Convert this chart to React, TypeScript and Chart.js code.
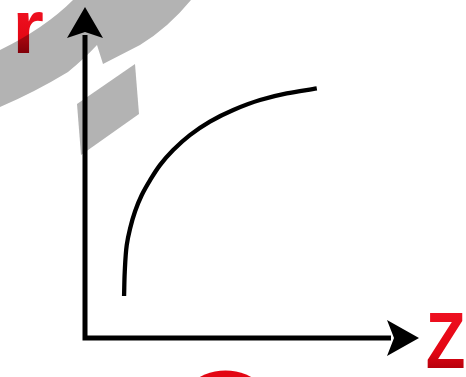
import React, { useEffect, useRef } from "react";
import { Chart, registerables } from "chart.js";

Chart.register(...registerables);

// Curve (z along the horizontal axis, r vertical), axis range 0..10
const zValues = [1.17, 1.19, 1.25, 1.35, 1.5, 1.7, 1.95, 2.25, 2.64, 3.14, 3.74, 4.44, 5.24, 6.04, 6.94];
const rValues = [1.27, 2.0, 2.81, 3.31, 3.83, 4.32, 4.77, 5.23, 5.68, 6.13, 6.54, 6.89, 7.19, 7.39, 7.54];
const axisMin = 0;
const axisMax = 10;
const xAxisLabel = "Z";
const yAxisLabel = "r";

const RED = "#e30613";
const GRAY = "#b3b3b3";

function fitText(ctx: CanvasRenderingContext2D, text: string, left: number, top: number, right: number, bottom: number) {
  ctx.save();
  ctx.font = 'bold 100px "Liberation Sans", Arial, sans-serif';
  ctx.textBaseline = "alphabetic";
  ctx.textAlign = "left";
  const m = ctx.measureText(text);
  const w = m.actualBoundingBoxLeft + m.actualBoundingBoxRight;
  const h = m.actualBoundingBoxAscent + m.actualBoundingBoxDescent;
  const sx = (right - left) / w;
  const sy = (bottom - top) / h;
  ctx.translate(left, top);
  ctx.scale(sx, sy);
  const g = ctx.createLinearGradient(0, 0, 0, h);
  g.addColorStop(0, "#ee1020");
  g.addColorStop(0.7, RED);
  g.addColorStop(1, "#b8000c");
  ctx.fillStyle = g;
  ctx.fillText(text, m.actualBoundingBoxLeft, m.actualBoundingBoxAscent);
  ctx.restore();
}

const decorPlugin = {
  id: "decor",
  beforeDatasetsDraw(chart: any) {
    const ctx: CanvasRenderingContext2D = chart.ctx;
    const xs = chart.scales.x;
    const ys = chart.scales.y;
    const x0 = xs.getPixelForValue(axisMin);
    const y0 = ys.getPixelForValue(axisMin);
    const xTip = xs.getPixelForValue(axisMax);
    const yTip = ys.getPixelForValue(axisMax);

    // red labels
    fitText(ctx, yAxisLabel, 17, 12, 43, 53);
    fitText(ctx, xAxisLabel, 427, 313, 464, 368);

    // red circle at the bottom
    ctx.save();
    ctx.fillStyle = RED;
    ctx.beginPath();
    ctx.arc(225.5, 424.5, 54, 0, Math.PI * 2);
    ctx.fill();
    ctx.restore();

    // gray watermark shapes
    ctx.save();
    ctx.globalCompositeOperation = "multiply";
    ctx.fillStyle = GRAY;
    ctx.beginPath();
    ctx.moveTo(0, 50);
    ctx.quadraticCurveTo(45, 28, 73, 0);
    ctx.lineTo(191, 0);
    ctx.quadraticCurveTo(168, 28, 140, 45);
    ctx.lineTo(103, 64);
    ctx.lineTo(97, 45);
    ctx.quadraticCurveTo(85, 58, 68, 72);
    ctx.quadraticCurveTo(35, 92, 0, 107);
    ctx.closePath();
    ctx.fill();
    ctx.beginPath();
    ctx.moveTo(77, 104);
    ctx.lineTo(135, 64);
    ctx.lineTo(139, 114);
    ctx.lineTo(81, 155);
    ctx.closePath();
    ctx.fill();
    ctx.restore();

    // axes
    ctx.save();
    ctx.fillStyle = "#000";
    ctx.strokeStyle = "#000";
    ctx.lineWidth = 5;
    ctx.lineCap = "butt";
    ctx.beginPath();
    ctx.moveTo(x0, y0 + 2.5);
    ctx.lineTo(x0, yTip + 28);
    ctx.moveTo(x0 - 2.5, y0);
    ctx.lineTo(xTip - 28, y0);
    ctx.stroke();
    // y arrowhead
    ctx.beginPath();
    ctx.moveTo(x0, yTip);
    ctx.lineTo(x0 + 18, yTip + 31);
    ctx.lineTo(x0, yTip + 25);
    ctx.lineTo(x0 - 18, yTip + 31);
    ctx.closePath();
    ctx.fill();
    // x arrowhead
    ctx.beginPath();
    ctx.moveTo(xTip, y0);
    ctx.lineTo(xTip - 32, y0 - 18);
    ctx.lineTo(xTip - 25, y0);
    ctx.lineTo(xTip - 32, y0 + 18);
    ctx.closePath();
    ctx.fill();
    ctx.restore();
  },
};

export default function App() {
  const ref = useRef<HTMLCanvasElement | null>(null);
  useEffect(() => {
    document.body.style.margin = "0";
    const canvas = ref.current;
    if (!canvas) return;
    const chart = new Chart(canvas, {
      type: "line",
      data: {
        datasets: [
          {
            data: zValues.map((z, i) => ({ x: z, y: rValues[i] })),
            borderColor: "#000",
            borderWidth: 4.3,
            pointRadius: 0,
            cubicInterpolationMode: "monotone",
            fill: false,
          },
        ],
      },
      options: {
        indexAxis: "y",
        animation: false,
        responsive: false,
        maintainAspectRatio: false,
        layout: { padding: { left: 85, right: 47, top: 7, bottom: 39 } },
        plugins: { legend: { display: false }, tooltip: { enabled: false } },
        scales: {
          x: { type: "linear", min: axisMin, max: axisMax, display: false },
          y: { type: "linear", min: axisMin, max: axisMax, display: false },
        },
      },
      plugins: [decorPlugin],
    });
    return () => chart.destroy();
  }, []);
  return (
    <div style={{ position: "fixed", left: 0, top: 0, width: 466, height: 377, background: "#fff" }}>
      <canvas ref={ref} width={466} height={377} style={{ width: 466, height: 377, display: "block" }} />
    </div>
  );
}
